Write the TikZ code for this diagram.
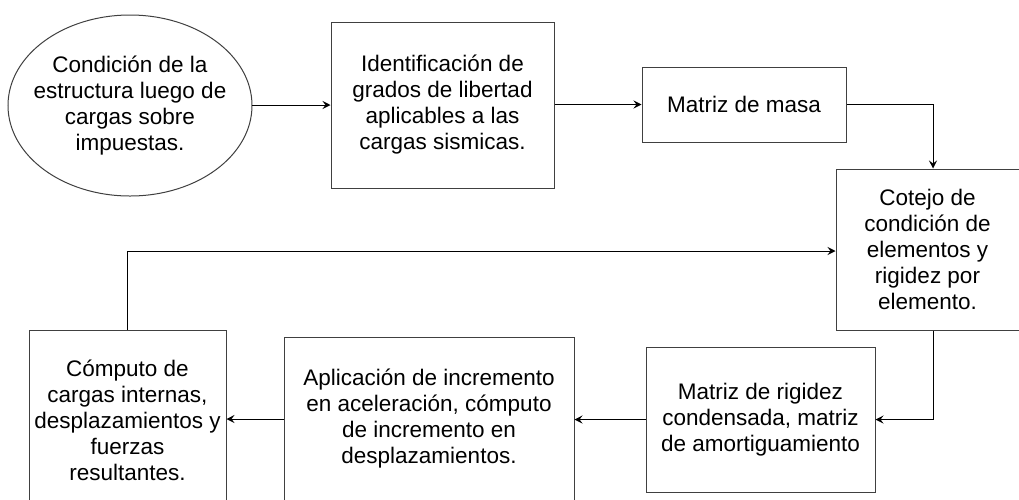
\documentclass[tikz,border=0pt]{standalone}
\usepackage{fontspec}
\setmainfont{Liberation Sans}
\usetikzlibrary{arrows.meta}
\begin{document}
\begin{tikzpicture}[x=1pt,y=-1pt,
  every node/.style={font=\fontsize{22.5}{26}\selectfont, align=center, inner sep=0pt},
  boxst/.style={draw=black!75, line width=1pt, rectangle, fill=white},
  conn/.style={draw=black, line width=1pt, -{Stealth[length=8pt,width=8pt,inset=3pt]}}]
\useasboundingbox (0,0) rectangle (1019,499);
\clip (0,0) rectangle (1019,499);
\fill[white] (0,0) rectangle (1019,499);
% nodes
\draw[draw=black!75, line width=1pt] (130,105.5) ellipse (122 and 90.5);
\node (e) at (130,105.5)
  {Condición de la\\estructura luego de\\cargas sobre\\impuestas.};
\coordinate (eR) at (252,105);
\node[boxst, minimum width=223pt, minimum height=166pt] (b2) at (442.5,105)
  {Identificación de\\grados de libertad\\aplicables a las\\cargas sismicas.};
\node[boxst, minimum width=204pt, minimum height=75pt] (b3) at (744,104.5)
  {Matriz de masa};
\node[boxst, minimum width=183pt, minimum height=161pt] (b4) at (927.5,249.5)
  {Cotejo de\\condición de\\elementos y\\rigidez por\\elemento.};
\node[boxst, minimum width=229pt, minimum height=145pt] (b7) at (760.5,419.5)
  {Matriz de rigidez\\condensada, matriz\\de amortiguamiento};
\node[boxst, minimum width=290pt, minimum height=164pt] (b6) at (429,419)
  {Aplicación de incremento\\en aceleración, cómputo\\de incremento en\\desplazamientos.};
\node[boxst, minimum width=197pt, minimum height=180pt] (b5) at (127.5,420)
  {Cómputo de\\cargas internas,\\desplazamientos y\\fuerzas\\resultantes.};
% connectors
\draw[conn] (eR) -- (b2.west |- eR);
\draw[conn] (b2.east |- b3.west) -- (b3.west);
\draw[conn] (b3.east) -| (b4.north -| 933,0);
\draw[conn] (b4.south -| 933,0) |- (b7.east);
\draw[conn] (b7.west) -- (b6.east |- b7.west);
\draw[conn] (b6.west) -- (b5.east |- b6.west);
\draw[conn] (b5.north) |- (b4.west |- 0,251);
\end{tikzpicture}
\end{document}
